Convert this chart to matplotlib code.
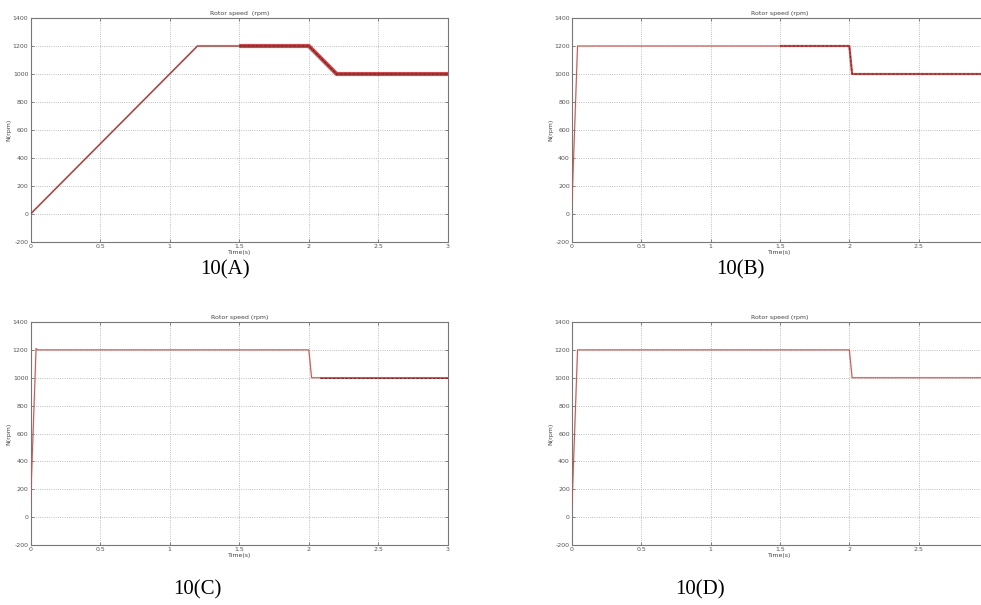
import matplotlib
matplotlib.use("Agg")
import matplotlib.pyplot as plt
import numpy as np

plt.rcParams["axes.unicode_minus"] = False

# ---- data ----
t_A = [0.0, 1.2, 2.0, 2.2, 3.0]
n_A = [0, 1200, 1200, 1000, 1000]
bandA_t = [1.5, 2.0, 2.2, 3.0]
bandA_n = [1200, 1200, 1000, 1000]

t_B = [0.0, 0.04, 2.0, 2.02, 3.0]
n_B = [80, 1200, 1200, 1000, 1000]
bandB_t = [1.5, 2.0, 2.02, 3.0]
bandB_n = [1200, 1200, 1000, 1000]

t_C = [0.0, 0.04, 0.05, 2.0, 2.02, 3.0]
n_C = [80, 1210, 1200, 1200, 1000, 1000]
bandC_t = [2.08, 3.0]
bandC_n = [1000, 1000]

t_D = [0.0, 0.04, 2.0, 2.02, 3.0]
n_D = [80, 1200, 1200, 1000, 1000]

xticks = [0, 0.5, 1, 1.5, 2, 2.5, 3]
xticklabels = ["0", "0.5", "1", "1.5", "2", "2.5", "3"]
yticks = [-200, 0, 200, 400, 600, 800, 1000, 1200, 1400]
captions = ["10(A)", "10(B)", "10(C)", "10(D)"]
titles = ["Rotor speed  (rpm)", "Rotor speed (rpm)", "Rotor speed (rpm)", "Rotor speed (rpm)"]

W, H = 981, 605
fig = plt.figure(figsize=(W / 100, H / 100), dpi=100)

def px_axes(x0, y0, x1, y1):
    return fig.add_axes([x0 / W, 1 - y1 / H, (x1 - x0) / W, (y1 - y0) / H])

# (axes, t, n, band t, band n, band width, line color, cropped at right edge)
panels = [
    (px_axes(30.5, 18, 448, 242), t_A, n_A, bandA_t, bandA_n, 3.0, "#8c3a34", False),
    (px_axes(572, 18, 988, 242), t_B, n_B, bandB_t, bandB_n, 1.6, "#b85a50", True),
    (px_axes(30.5, 322, 448, 545), t_C, n_C, bandC_t, bandC_n, 1.2, "#b85a50", False),
    (px_axes(572, 322, 988, 545), t_D, n_D, None, None, 0, "#b85a50", True),
]

for i, (ax, t, n, bt, bn, bw, lc, cropped) in enumerate(panels):
    ax.plot(t, n, color="#e07070", lw=1.8 if i == 0 else 1.3, alpha=0.3, zorder=2)
    ax.plot(t, n, color=lc, lw=0.9 if i == 0 else 0.7, zorder=3)
    if bt is not None:
        ax.plot(bt, bn, color="#c42024", lw=bw, alpha=0.8, zorder=2,
                solid_capstyle="butt")
        ax.plot(bt, bn, color="#6a2020", lw=0.6, ls=(0, (3, 2)), zorder=4)
    ax.set_xlim(0, 3)
    ax.set_ylim(-200, 1400)
    ax.set_xticks(xticks)
    labels = list(xticklabels)
    if cropped:
        labels[-1] = ""
    ax.set_xticklabels(labels)
    ax.set_yticks(yticks)
    ax.grid(True, ls=":", color="#aaaaaa", lw=0.6)
    ax.tick_params(direction="in", length=2.5, width=0.5, labelsize=4.5,
                   top=True, right=True, colors="#555555", pad=1.5)
    for s in ax.spines.values():
        s.set_color("#777777")
        s.set_linewidth(0.8)
    ax.set_title(titles[i], fontsize=4.5, color="#444444", pad=2)
    ax.set_xlabel("Time(s)", fontsize=4.5, color="#444444", labelpad=1)
    ax.set_ylabel("N(rpm)", fontsize=4.5, color="#444444", labelpad=1)

cap_pos = [(225, 270), (740, 270), (197, 590), (700, 590)]
for c, (x, y) in zip(captions, cap_pos):
    fig.text(x / W, 1 - y / H, c, fontsize=15, family="Liberation Serif",
             ha="center", va="center", color="black")

fig.savefig("out.png", dpi=100)
